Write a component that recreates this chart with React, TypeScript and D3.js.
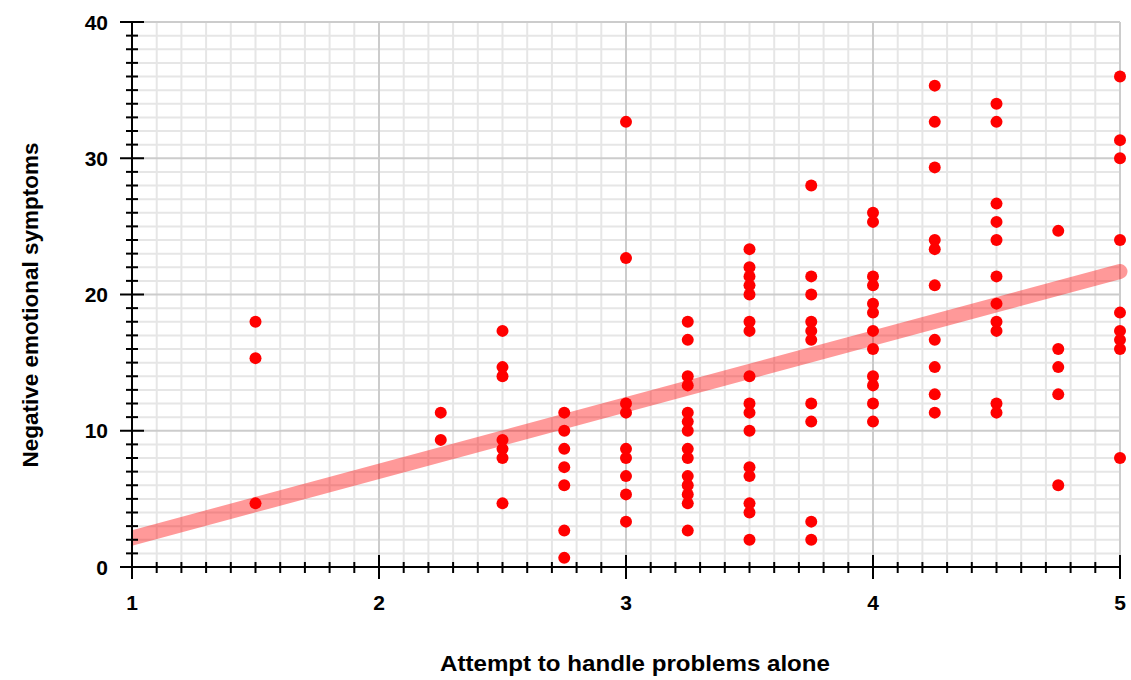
import React, { useEffect, useRef } from 'react';
import * as d3 from 'd3';

// x levels (attempt to handle problems alone) and the symptom scores seen at each level
const attemptLevels = [1.5, 2.25, 2.5, 2.75, 3, 3.25, 3.5, 3.75, 4, 4.25, 4.5, 4.75, 5];
const symptomsByLevel = [
  [18, 15.33, 4.67],
  [11.33, 9.33],
  [17.33, 14.67, 14, 9.33, 8.67, 8, 4.67],
  [11.33, 10, 8.67, 7.33, 6, 2.67, 0.67],
  [32.67, 22.67, 12, 11.33, 8.67, 8, 6.67, 5.33, 3.33],
  [18, 16.67, 14, 13.33, 11.33, 10.67, 10, 8.67, 8, 6.67, 6, 5.33, 4.67, 2.67],
  [23.33, 22, 21.33, 20.67, 20, 18, 17.33, 14, 12, 11.33, 10, 7.33, 6.67, 4.67, 4, 2],
  [28, 21.33, 20, 18, 17.33, 16.67, 12, 10.67, 3.33, 2],
  [26, 25.33, 21.33, 20.67, 19.33, 18.67, 17.33, 16, 14, 13.33, 12, 10.67],
  [35.33, 32.67, 29.33, 24, 23.33, 20.67, 16.67, 14.67, 12.67, 11.33],
  [34, 32.67, 26.67, 25.33, 24, 21.33, 19.33, 18, 17.33, 12, 11.33],
  [24.67, 16, 14.67, 12.67, 6],
  [36, 31.33, 30, 24, 18.67, 17.33, 16.67, 16, 8],
];

// fitted trend line
const trendIntercept = -2.76;
const trendSlope = 4.89;

const xTicks = [1, 2, 3, 4, 5];
const yTicks = [0, 10, 20, 30, 40];

const xTitle = 'Attempt to handle problems alone';
const yTitle = 'Negative emotional symptoms';

const App: React.FC = () => {
  const svgRef = useRef<SVGSVGElement>(null);

  useEffect(() => {
    if (!svgRef.current) return;
    const svg = d3.select(svgRef.current);
    svg.selectAll('*').remove();

    const width = 1131;
    const height = 680;
    const margin = { top: 22, right: 11, bottom: 113, left: 132 };
    const font = '"Liberation Sans", Arial, sans-serif';

    const xScale = d3.scaleLinear().domain([1, 5]).range([margin.left, width - margin.right]);
    const yScale = d3.scaleLinear().domain([0, 40]).range([height - margin.bottom, margin.top]);

    const [x0, x1] = xScale.range();
    const [y0, y1] = yScale.range();

    // grid
    const minorX = d3.range(10, 51).map(d => d / 10).filter(d => !xTicks.includes(d));
    const minorY = d3.range(0, 41).filter(d => !yTicks.includes(d));
    const grid = svg.append('g');
    grid.selectAll('.gx-minor').data(minorX).enter().append('line')
      .attr('x1', d => xScale(d)).attr('x2', d => xScale(d))
      .attr('y1', y0).attr('y2', y1)
      .attr('stroke', '#e6e6e6').attr('stroke-width', 2);
    grid.selectAll('.gy-minor').data(minorY).enter().append('line')
      .attr('x1', x0).attr('x2', x1)
      .attr('y1', d => yScale(d)).attr('y2', d => yScale(d))
      .attr('stroke', '#e6e6e6').attr('stroke-width', 2);
    grid.selectAll('.gx-major').data(xTicks).enter().append('line')
      .attr('x1', d => xScale(d)).attr('x2', d => xScale(d))
      .attr('y1', y0).attr('y2', y1)
      .attr('stroke', '#cccccc').attr('stroke-width', 2);
    grid.selectAll('.gy-major').data(yTicks).enter().append('line')
      .attr('x1', x0).attr('x2', x1)
      .attr('y1', d => yScale(d)).attr('y2', d => yScale(d))
      .attr('stroke', '#cccccc').attr('stroke-width', 2);

    // trend band
    svg.append('clipPath').attr('id', 'trend-clip')
      .append('rect').attr('x', x0).attr('y', 0).attr('width', width - x0).attr('height', height);
    const trend = d3.line<number>()
      .x(d => xScale(d))
      .y(d => yScale(trendIntercept + trendSlope * d));
    svg.append('path')
      .datum([1, 5])
      .attr('d', trend)
      .attr('clip-path', 'url(#trend-clip)')
      .attr('fill', 'none')
      .attr('stroke', '#ff0000')
      .attr('stroke-opacity', 0.4)
      .attr('stroke-width', 15)
      .attr('stroke-linecap', 'round');

    // points
    const points = attemptLevels.flatMap((x, i) => symptomsByLevel[i].map(y => ({ x, y })));
    svg.append('g').selectAll('circle').data(points).enter().append('circle')
      .attr('cx', d => xScale(d.x))
      .attr('cy', d => yScale(d.y))
      .attr('r', 6)
      .attr('fill', '#ff0000');

    // axes
    const axis = svg.append('g').attr('stroke', '#000').attr('stroke-width', 2);
    axis.append('line').attr('x1', x0 - 12).attr('x2', x1).attr('y1', y0).attr('y2', y0);
    axis.append('line').attr('x1', x0).attr('x2', x0).attr('y1', y0 + 12).attr('y2', y1);
    axis.selectAll('.xt-minor').data(minorX).enter().append('line')
      .attr('x1', d => xScale(d)).attr('x2', d => xScale(d))
      .attr('y1', y0 - 5).attr('y2', y0 + 6);
    axis.selectAll('.xt-major').data(xTicks).enter().append('line')
      .attr('x1', d => xScale(d)).attr('x2', d => xScale(d))
      .attr('y1', y0 - 12).attr('y2', y0 + 12);
    axis.selectAll('.yt-minor').data(minorY).enter().append('line')
      .attr('x1', x0 - 6).attr('x2', x0 + 6)
      .attr('y1', d => yScale(d)).attr('y2', d => yScale(d));
    axis.selectAll('.yt-major').data(yTicks).enter().append('line')
      .attr('x1', x0 - 12).attr('x2', x0 + 12)
      .attr('y1', d => yScale(d)).attr('y2', d => yScale(d));

    // tick labels
    svg.append('g').selectAll('text').data(xTicks).enter().append('text')
      .attr('x', d => xScale(d))
      .attr('y', y0 + 43)
      .attr('text-anchor', 'middle')
      .style('font-family', font).style('font-size', '21px').style('font-weight', 'bold')
      .text(d => d);
    svg.append('g').selectAll('text').data(yTicks).enter().append('text')
      .attr('x', x0 - 24)
      .attr('y', d => yScale(d))
      .attr('dy', '0.36em')
      .attr('text-anchor', 'end')
      .style('font-family', font).style('font-size', '21px').style('font-weight', 'bold')
      .text(d => d);

    // titles
    svg.append('text')
      .attr('x', 635)
      .attr('y', 671)
      .attr('text-anchor', 'middle')
      .attr('textLength', 390)
      .attr('lengthAdjust', 'spacingAndGlyphs')
      .style('font-family', font).style('font-size', '22.5px').style('font-weight', 'bold')
      .text(xTitle);
    svg.append('text')
      .attr('transform', `translate(38, 305) rotate(-90)`)
      .attr('text-anchor', 'middle')
      .style('font-family', font).style('font-size', '22.5px').style('font-weight', 'bold')
      .text(yTitle);
  }, []);

  return (
    <svg
      ref={svgRef}
      width={1131}
      height={680}
      style={{ position: 'absolute', left: 0, top: 0, background: '#fff' }}
    />
  );
};

export default App;
